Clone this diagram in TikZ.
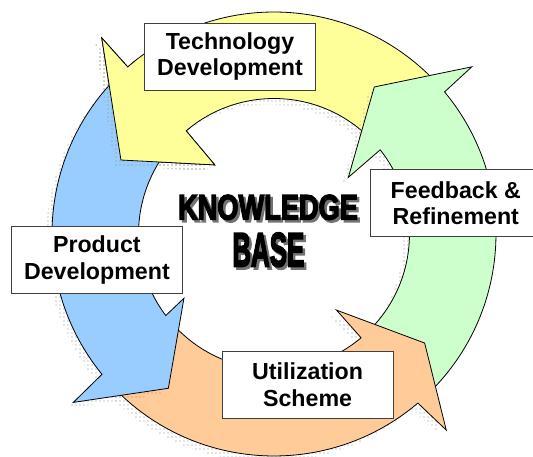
\documentclass[tikz,border=0pt]{standalone}
\usepackage{graphicx}
\usepackage{fontspec}
\setmainfont{Liberation Sans}
\newfontfamily\wordartfont{Liberation Sans}[BoldFeatures={FakeBold=4}]
\usepackage{tikz}
\usetikzlibrary{patterns, shadows, positioning}
\definecolor{yellowarr}{HTML}{FFFF99}
\definecolor{greenarr}{HTML}{CCFFCC}
\definecolor{orangearr}{HTML}{FFCC99}
\definecolor{bluearr}{HTML}{99CCFF}
% tail, outer base, inner base, outer barb (angle/radius), tip, inner barb
\newcommand{\arrowpath}[9]{(#1:222) arc[start angle=#1, end angle=#2, radius=222] -- (#4:#5) -- (#6:#7) -- (#8:#9) -- (#3:135.5) arc[start angle=#3, end angle=#1, radius=135.5] -- cycle}

\begin{document}
\begin{tikzpicture}[x=0.75pt, y=0.75pt,
    ring/.style={draw=black, line width=0.6pt},
    shadowed/.style={drop shadow={shadow xshift=-4.5pt, shadow yshift=-4.5pt, opacity=1, pattern=dots, pattern color=black!45}},
    labelbox/.style={draw=black!75, fill=white, line width=0.6pt, minimum width=128.25pt, minimum height=50.25pt, inner sep=0pt, align=center, font=\fontsize{17.4}{19.9}\selectfont\bfseries},
    wordart/.style={anchor=base, inner sep=0pt}]
    \useasboundingbox (-274,-223) rectangle (259,234);

    % Draw the four ring arrows
    \draw[ring, shadowed, fill=yellowarr] \arrowpath{45}{131.2}{130.4}{131.3}{261}{154.2}{170}{130.6}{91};
    \draw[ring, shadowed, fill=greenarr] \arrowpath{-44}{39.8}{38.4}{40.2}{259}{55.7}{178}{37.3}{93.5};
    \draw[ring, shadowed, fill=orangearr] \arrowpath{224}{310.4}{310}{311.3}{261}{324.1}{186}{309.4}{98.5};
    \draw[ring, shadowed, fill=bluearr] \arrowpath{137}{219.2}{217}{220}{262}{235.6}{187}{215.5}{110.6};

    % Put the yellow head back on top of the blue tail
    \begin{scope}
        \clip (128:60) -- (128:300) arc[start angle=128, end angle=162, radius=300] -- (162:60) -- cycle;
        \draw[ring, shadowed, fill=yellowarr] \arrowpath{45}{131.2}{130.4}{131.3}{261}{154.2}{170}{130.6}{91};
    \end{scope}

    % Label boxes
    \node[labelbox] (tech) at (-44,177.4) {Technology\\Development};
    \node[labelbox] (feedback) at (181.8,31) {Feedback \&\\Refinement};
    \node[labelbox] (utilization) at (33.6,-150.9) {Utilization\\Scheme};
    \node[labelbox] (product) at (-177.1,-26.2) {Product\\Development};

    % Centre title with its shadow
    \node[wordart, text=black!55] (knowledge-sh) at (-3.5,12) {\scalebox{0.77}[1]{\wordartfont\bfseries\fontsize{26.5}{26.5}\selectfont KNOWLEDGE}};
    \node[wordart] (knowledge) at (-6,14.5) {\scalebox{0.77}[1]{\wordartfont\bfseries\fontsize{26.5}{26.5}\selectfont KNOWLEDGE}};
    \node[wordart, text=black!55] (base-sh) at (-3.2,-34.8) {\scalebox{0.54}[1]{\wordartfont\bfseries\fontsize{36}{36}\selectfont BASE}};
    \node[wordart] (base) at (-5.7,-32.3) {\scalebox{0.54}[1]{\wordartfont\bfseries\fontsize{36}{36}\selectfont BASE}};
\end{tikzpicture}
\end{document}
